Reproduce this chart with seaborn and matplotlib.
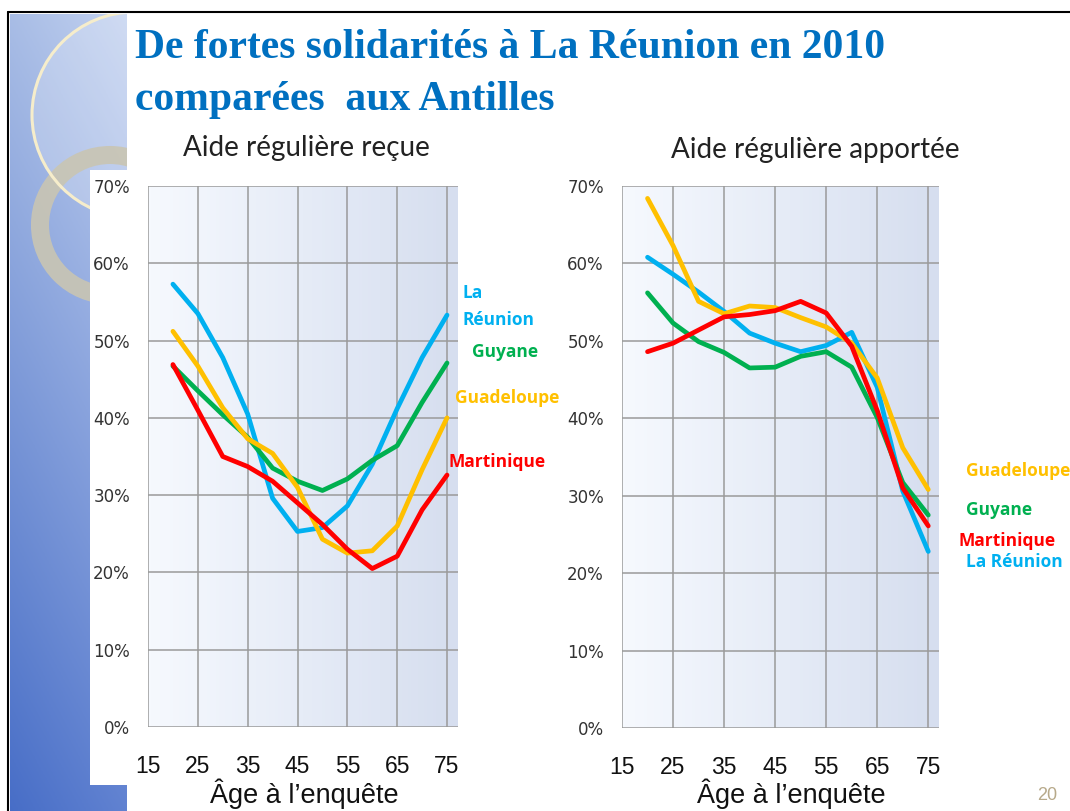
import numpy as np
import pandas as pd
import matplotlib
matplotlib.use("Agg")
import matplotlib.pyplot as plt
import matplotlib.patches as mpatches
from matplotlib.ticker import FuncFormatter
import seaborn as sns

# Données (en %)
ages = [20, 25, 30, 35, 40, 45, 50, 55, 60, 65, 70, 75]
territoires = ["La Réunion", "Guyane", "Guadeloupe", "Martinique"]

recue_reunion = [57.3, 53.5, 47.8, 40.5, 29.6, 25.3, 25.8, 28.6, 34.0, 41.2, 47.8, 53.3]
recue_guyane = [46.7, 43.5, 40.4, 37.5, 33.5, 31.8, 30.6, 32.1, 34.5, 36.4, 42.0, 47.1]
recue_guadeloupe = [51.2, 46.7, 41.3, 37.3, 35.4, 31.0, 24.3, 22.5, 22.8, 26.0, 33.3, 40.0]
recue_martinique = [46.9, 41.0, 35.0, 33.7, 31.8, 29.0, 26.2, 23.0, 20.5, 22.1, 28.1, 32.6]

apport_reunion = [60.8, 58.6, 56.3, 53.8, 51.0, 49.7, 48.6, 49.4, 51.1, 44.0, 30.6, 22.8]
apport_guyane = [56.2, 52.3, 49.9, 48.5, 46.5, 46.6, 48.0, 48.6, 46.6, 40.1, 31.7, 27.5]
apport_guadeloupe = [68.4, 62.3, 55.1, 53.5, 54.5, 54.3, 53.0, 51.8, 49.7, 45.2, 36.2, 30.8]
apport_martinique = [48.6, 49.7, 51.4, 53.1, 53.4, 53.9, 55.1, 53.6, 49.3, 41.0, 31.0, 26.1]

couleurs = {"La Réunion": "#00B0F0", "Guyane": "#00B050",
            "Guadeloupe": "#FFC000", "Martinique": "#FF0000"}

titre_1 = "De fortes solidarités à La Réunion en 2010"
titre_2 = "comparées  aux Antilles"
sous_titres = ["Aide régulière reçue", "Aide régulière apportée"]
xticks = [15, 25, 35, 45, 55, 65, 75]
yticks = [0, 10, 20, 30, 40, 50, 60, 70]


def to_long(series):
    rows = []
    for nom, vals in zip(territoires, series):
        for a, v in zip(ages, vals):
            rows.append({"age": a, "valeur": v, "territoire": nom})
    return pd.DataFrame(rows)


df_recue = to_long([recue_reunion, recue_guyane, recue_guadeloupe, recue_martinique])
df_apport = to_long([apport_reunion, apport_guyane, apport_guadeloupe, apport_martinique])

sns.set_style("white")
plt.rcParams["font.family"] = ["Liberation Sans", "DejaVu Sans"]

W, H = 1070, 811
fig = plt.figure(figsize=(W / 100, H / 100), dpi=100)
fig.patch.set_facecolor("white")

# fond décoratif (coordonnées en pixels)
bg = fig.add_axes([0, 0, 1, 1], zorder=0)
bg.set_xlim(0, W)
bg.set_ylim(H, 0)
bg.axis("off")

yy, xx = np.mgrid[0:1:200j, 0:1:60j]
r = 0.66 - 0.38 * yy + 0.10 * xx
g = 0.74 - 0.31 * yy + 0.08 * xx
b = 0.90 - 0.12 * yy + 0.04 * xx
panel = np.clip(np.dstack([r, g, b]), 0, 1)
bg.imshow(panel, extent=(10, 127, H, 14), aspect="auto", zorder=1)
clip = mpatches.Rectangle((10, 14), 117, H - 14, transform=bg.transData)

disc = mpatches.Circle((135, 115), 103, facecolor="white", alpha=0.22,
                       edgecolor="none", zorder=2)
arc = mpatches.Circle((135, 115), 103, facecolor="none", edgecolor="#F6EDCB",
                      lw=2.2, zorder=3)
ring = mpatches.Circle((110, 225), 70, facecolor="none", edgecolor="#C9C5B3",
                       lw=13, alpha=0.9, zorder=2)
for p in (disc, arc, ring):
    bg.add_patch(p)
    p.set_clip_path(clip)

bg.add_patch(mpatches.Rectangle((90, 170), 60, 615, facecolor="white",
                                edgecolor="none", zorder=4))
bg.plot([8, W], [12, 12], color="black", lw=1.5, zorder=5)
bg.plot([8, 8], [12, H], color="black", lw=1.5, zorder=5)

fig.text(135 / W, 1 - 48 / H, titre_1, family="Liberation Serif",
         fontweight="bold", fontsize=30, color="#0070C0", va="center", ha="left")
fig.text(135 / W, 1 - 100 / H, titre_2, family="Liberation Serif",
         fontweight="bold", fontsize=30, color="#0070C0", va="center", ha="left")
fig.text(1047 / W, 1 - 795 / H, "20", fontsize=13, color="#B7A98A",
         ha="center", va="center")

grad = np.linspace(0, 1, 100).reshape(1, -1)
cmap_fond = matplotlib.colors.LinearSegmentedColormap.from_list(
    "fond", ["#F6F9FE", "#E6ECF7", "#D6DEEF"])


def panneau(rect_px, df, xmax, titre, titre_xy, xlabel_xy):
    l, rgt, t, btm = rect_px
    ax = fig.add_axes([l / W, 1 - btm / H, (rgt - l) / W, (btm - t) / H], zorder=2)
    ax.imshow(grad, extent=(0, 1, 0, 1), transform=ax.transAxes, aspect="auto",
              cmap=cmap_fond, zorder=0)
    sns.lineplot(data=df, x="age", y="valeur", hue="territoire",
                 hue_order=territoires, palette=couleurs, linewidth=3.4,
                 legend=False, ax=ax, zorder=3)
    ax.set_xlim(15, xmax)
    ax.set_ylim(0, 70)
    ax.set_xticks(xticks)
    ax.set_yticks(yticks)
    ax.yaxis.set_major_formatter(FuncFormatter(lambda v, p: f"{int(v)}%"))
    ax.grid(True, color="#9A9A9A", lw=1.1)
    ax.set_axisbelow(False)
    for sp in ax.spines.values():
        sp.set_visible(False)
    ax.tick_params(axis="x", length=7, width=1.1, color="#9A9A9A", pad=13,
                   labelsize=16.5, labelcolor="#111111")
    ax.tick_params(axis="y", length=8, width=1.1, color="#9A9A9A", pad=5,
                   labelsize=12, labelcolor="#333333")
    for lab in ax.get_yticklabels():
        lab.set_family("DejaVu Sans")
    ax.set_xlabel("")
    ax.set_ylabel("")
    fig.text(titre_xy[0] / W, 1 - titre_xy[1] / H, titre, family="Lato",
             fontsize=20, color="#222222", ha="center", va="center")
    fig.text(xlabel_xy[0] / W, 1 - xlabel_xy[1] / H, "Âge à l’enquête",
             fontsize=19.5, color="#111111", ha="center", va="center")
    return ax


ax1 = panneau((148, 458, 186, 727), df_recue, 77.2, sous_titres[0], (306, 148), (304, 794))
ax2 = panneau((622, 939, 186, 728), df_apport, 77.1, sous_titres[1], (815, 150), (791, 794))

etiq = dict(family="Open Sans", fontweight="bold", fontsize=12.5, va="center", ha="left")
# étiquettes à droite du premier graphique
fig.text(463 / W, 1 - 293 / H, "La", color=couleurs["La Réunion"], **etiq)
fig.text(463 / W, 1 - 320 / H, "Réunion", color=couleurs["La Réunion"], **etiq)
fig.text(472 / W, 1 - 352 / H, "Guyane", color=couleurs["Guyane"], **etiq)
fig.text(455 / W, 1 - 398 / H, "Guadeloupe", color=couleurs["Guadeloupe"], **etiq)
fig.text(448 / W, 1 - 462 / H, "Martinique", color=couleurs["Martinique"], **etiq)
# étiquettes à droite du second graphique
fig.text(966 / W, 1 - 471 / H, "Guadeloupe", color=couleurs["Guadeloupe"], **etiq)
fig.text(966 / W, 1 - 510 / H, "Guyane", color=couleurs["Guyane"], **etiq)
fig.text(959 / W, 1 - 541 / H, "Martinique", color=couleurs["Martinique"], **etiq)
fig.text(966 / W, 1 - 562 / H, "La Réunion", color=couleurs["La Réunion"], **etiq)

fig.savefig("out.png", dpi=100)
